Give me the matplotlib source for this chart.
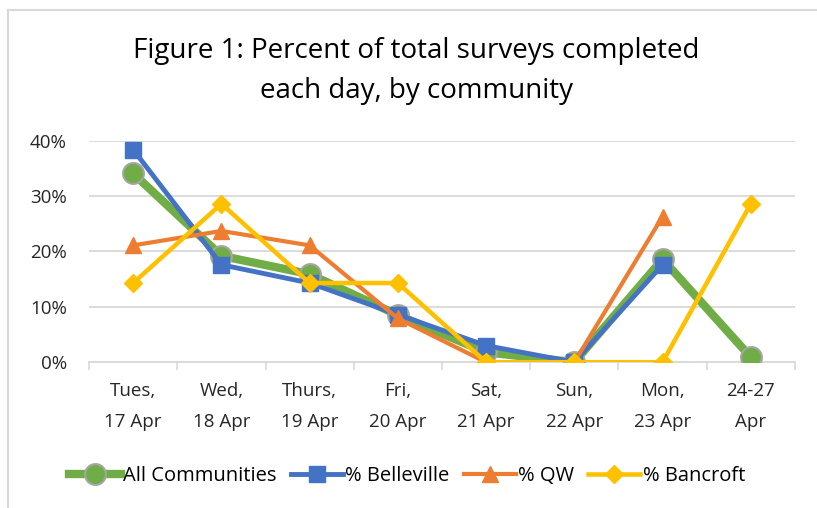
import matplotlib.pyplot as plt
from matplotlib.patches import Rectangle

days = ['Tues,\n17 Apr', 'Wed,\n18 Apr', 'Thurs,\n19 Apr', 'Fri,\n20 Apr',
        'Sat,\n21 Apr', 'Sun,\n22 Apr', 'Mon,\n23 Apr', '24-27\nApr']
all_comm = [34.1, 19.2, 15.9, 8.5, 1.8, 0.0, 18.6, 0.9]
belleville = [38.4, 17.6, 14.3, 8.6, 3.0, 0.0, 17.6]
qw = [21.1, 23.7, 21.1, 7.9, 0.0, 0.0, 26.3]
bancroft = [14.3, 28.6, 14.3, 14.3, 0.0, 0.0, 0.0, 28.6]

plt.rcParams['font.family'] = ['Open Sans', 'DejaVu Sans']

fig = plt.figure(figsize=(8.17, 5.08), dpi=100)
ax = fig.add_axes([0.109, 0.287, 0.864, 0.436])

x = list(range(len(days)))
ax.plot(x, all_comm, color='#70AD47', lw=6, marker='o', ms=15,
        mfc='#70AD47', mec='#A5A5A5', mew=1.5, label='All Communities', zorder=3)
ax.plot(x[:len(belleville)], belleville, color='#4472C4', lw=3.5, marker='s', ms=11,
        label='% Belleville', zorder=4)
ax.plot(x[:len(qw)], qw, color='#ED7D31', lw=3, marker='^', ms=11,
        label='% QW', zorder=5)
ax.plot(x, bancroft, color='#FFC000', lw=3.25, marker='D', ms=9,
        label='% Bancroft', zorder=6)

ax.set_xlim(-0.5, 7.5)
ax.set_ylim(0, 40)
ax.set_yticks([0, 10, 20, 30, 40])
ax.set_yticklabels(['0%', '10%', '20%', '30%', '40%'], fontsize=13.5, color='#262626')
ax.set_xticks(x)
ax.set_xticklabels(days, fontsize=13.5, color='#262626', linespacing=1.95)
ax.set_xticks([i - 0.5 for i in range(9)], minor=True)
ax.tick_params(axis='x', which='major', length=0, pad=14)
ax.tick_params(axis='x', which='minor', length=6, color='#D9D9D9', width=1.2)
ax.tick_params(axis='y', length=0, pad=16)
ax.grid(axis='y', color='#D9D9D9', lw=1.3)
ax.set_axisbelow(True)
for s in ['top', 'right', 'left']:
    ax.spines[s].set_visible(False)
ax.spines['bottom'].set_color('#D9D9D9')
ax.spines['bottom'].set_linewidth(1.3)

fig.text(0.51, 0.86, 'Figure 1: Percent of total surveys completed\neach day, by community',
         ha='center', va='center', fontsize=20, color='#000000', linespacing=1.6)

fig.legend(loc='center', bbox_to_anchor=(0.498, 0.063), ncol=4, frameon=False,
           fontsize=14.5, handlelength=2.6, handletextpad=0.1, columnspacing=0.7)

fig.patches.append(Rectangle((0.0098, -0.1), 1.2, 1.08, transform=fig.transFigure,
                             fill=False, ec='#D9D9D9', lw=1.5))

fig.savefig('out.png', dpi=100)
